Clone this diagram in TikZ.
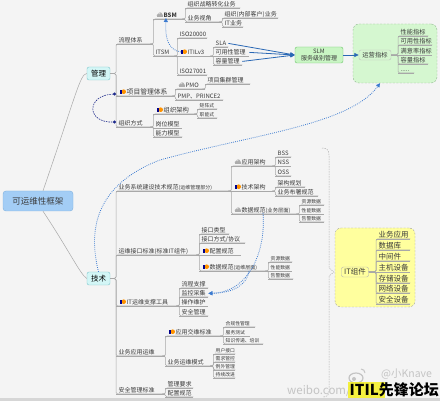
\documentclass[tikz,border=0pt]{standalone}
\usepackage{fontspec}
\setmainfont{Noto Sans CJK SC}
\usetikzlibrary{arrows.meta,calc}
\definecolor{bgc}{HTML}{F4F4F4}
\definecolor{band}{HTML}{D6D6D6}
\definecolor{linec}{HTML}{A8A8A8}
\definecolor{txt}{HTML}{3A3A3A}
\definecolor{rootf}{HTML}{A3CDF5}
\definecolor{rootd}{HTML}{7FB0DE}
\definecolor{mainf}{HTML}{D3F6F6}
\definecolor{maind}{HTML}{7CC6CC}
\definecolor{slmf}{HTML}{C9F5C4}
\definecolor{slmd}{HTML}{6CC56C}
\definecolor{gcf}{HTML}{D5F7D0}
\definecolor{gcd}{HTML}{8FB58F}
\definecolor{ycf}{HTML}{FFFF9E}
\definecolor{ycd}{HTML}{A0A0A0}
\definecolor{blueA}{HTML}{2A68B5}
\definecolor{blueR}{HTML}{3C7BD0}
\definecolor{navyR}{HTML}{1E2A8C}
\definecolor{wmc}{HTML}{C4C4C4}
\definecolor{hl}{HTML}{F4F020}
\newcommand\fs[1]{\fontsize{#1}{#1}\selectfont}
\newcommand\tp[6][]{\node[tp,#1] (#2) at (#3,#4) {\makebox[#5pt][l]{\hspace*{2.5pt}#6}};}
\newcommand\tpi[6][]{\node[tp,#1] (#2) at (#3,#4) {\makebox[#5pt][l]{\hspace*{10.5pt}#6}};}
\newcommand\lk[2]{\draw[br] ([xshift=-3pt]#1.south east) -- (#1.south east) |- (#2.south east);}
\newcommand\lks[2]{\draw[br] (#1.south east) -- (#2.south west);}
\newcommand\lkb[2]{\draw[br] (#1.east) -| (#2.south west) -- (#2.south east);}
\newcommand\icloud[1]{\begin{scope}[shift={($(#1.south west)+(3.5,-1.8)$)}]
 \fill[gray!65] (0.3,0) rectangle (6.2,-2.2);
 \fill[gray!65] (1.6,-2) circle (1.5pt);
 \fill[gray!65] (3.7,-2.8) circle (2pt);
 \fill[gray!65] (5.4,-1.9) circle (1.2pt);
 \fill[white!70!gray] (3.2,-3.6) circle (0.7pt);
\end{scope}}
\newcommand\ithumb[1]{\begin{scope}[shift={($(#1.south west)+(3.5,-1.5)$)}]
 \fill[orange!85!yellow] (4.2,-2.8) circle (2.3pt);
 \fill[blue!55!black] (0.4,-0.6) rectangle (2.1,-4.6);
\end{scope}}
\begin{document}
\begin{tikzpicture}[x=1pt,y=-1pt,
  tp/.style={anchor=south west, inner xsep=0pt, inner ysep=0.8pt, text=txt, font=\fs{6},
    text height=4.8pt, text depth=0.4pt,
    append after command={(\tikzlastnode.south west) edge[ul] (\tikzlastnode.south east)}},
  sm/.style={font=\fs{4.8}, text height=3.8pt, text depth=0.3pt},
  big/.style={font=\fs{7.5}, text height=6pt, text depth=0.5pt},
  ul/.style={draw=linec, line width=0.5pt},
  br/.style={draw=linec, line width=0.5pt, rounded corners=1.5pt},
  rootl/.style={draw=linec, line width=0.5pt},
  rootbox/.style={draw=rootd, fill=rootf, rounded corners=3pt, minimum width=70pt, minimum height=20pt, inner sep=0pt, font=\fs{8.5}, text=txt},
  mainbox/.style={draw=maind, fill=mainf, rounded corners=2pt, minimum width=23pt, minimum height=13pt, inner sep=0pt, font=\fs{7.5}, text=black},
  slmbox/.style={draw=slmd, fill=slmf, rounded corners=2pt, minimum width=48pt, minimum height=16pt, inner sep=0pt, font=\fontsize{6}{7}\selectfont, align=center, text=txt},
  yybox/.style={draw=gray!50, fill=gcf, rounded corners=2pt, minimum width=32pt, minimum height=10pt, inner sep=0pt, font=\fs{6.3}, text=txt},
  gcont/.style={draw=gcd, dash pattern=on 2pt off 1.5pt, fill=gcf, rounded corners=6pt, minimum width=84pt, minimum height=59pt, inner sep=0pt},
  ycont/.style={draw=ycd, dash pattern=on 2pt off 1.5pt, fill=ycf, rounded corners=6pt, minimum width=80pt, minimum height=79pt, inner sep=0pt},
  itbox/.style={draw=gray!60, fill=ycf, rounded corners=2pt, minimum width=27pt, minimum height=10pt, inner sep=0pt, font=\fs{7.5}, text=txt},
  relB/.style={draw=blueR, line width=0.8pt, dash pattern=on 0.8pt off 1.2pt, -{Triangle[length=4pt,width=4pt]}},
  relN/.style={draw=navyR, line width=0.6pt, dash pattern=on 1.5pt off 1pt, {Circle[length=3pt]}-{Circle[length=3pt]}},
  arrB/.style={draw=blueA, line width=0.8pt, -{Triangle[length=4.5pt,width=4pt]}},
  sumb/.style={draw=gray!60, dash pattern=on 1.5pt off 1pt, line width=0.5pt}
]
\useasboundingbox (0,0) rectangle (440,401);
\fill[bgc] (0,0) rectangle (440,401);
\fill[band] (0,398) rectangle (440,401);

% containers
\node[gcont] (gbox) at (395,53.5) {};
\node[ycont] (ybox) at (375,267.5) {};

% root and main topics
\node[rootbox] (root) at (38,201) {可运维性框架};
\node[mainbox] (gl) at (98.5,73.5) {管理};
\node[mainbox] (js) at (98.5,278.5) {技术};
\draw[rootl] ([xshift=5pt]root.north) .. controls (76,95) and (80,74) .. (gl.west);
\draw[rootl] ([xshift=5pt]root.south) .. controls (70,252) and (80,274) .. (js.west);

% ---------- 管理 ----------
\tp{lc}{116}{44}{37}{流程体系}
\tpi[font=\fs{6.8}]{xm}{116}{96}{59}{项目管理体系}
\tp{zz}{116}{127}{37}{组织方式}
\lkb{gl}{lc}\lkb{gl}{xm}\lkb{gl}{zz}

\tpi{bsm}{153}{19}{32}{\textbf{BSM}}
\tp{itsm}{153}{56}{24}{ITSM}
\lk{lc}{bsm}\lk{lc}{itsm}

\tp{zl}{185}{8}{55}{组织战略转化业务}
\tp{ywsj}{185}{22}{37}{业务视角}
\lk{bsm}{zl}\lk{bsm}{ywsj}
\tp{zn}{222}{18}{56}{组织(内部客户)业务}
\tp{itb}{222}{27}{21}{IT业务}
\lk{ywsj}{zn}\lk{ywsj}{itb}

\tp{iso1}{177}{38}{30}{ISO20000}
\tpi{itil}{177}{56}{36}{ITILv3}
\tp{iso2}{177}{75}{30}{ISO27001}
\lk{itsm}{iso1}\lks{itsm}{itil}\lk{itsm}{iso2}

\tp{sla}{213}{47}{15}{SLA}
\tp{kyx}{213}{56}{36}{可用性管理}
\tp{rl}{213}{65}{29}{容量管理}
\lk{itil}{sla}\lks{itil}{kyx}\lk{itil}{rl}

\node[slmbox] (slm) at (319,55) {SLM\\服务级别管理};
\draw[arrB] (sla.east) -- (slm.west);
\draw[arrB] (kyx.east) -- (slm.west);
\draw[arrB] (rl.east) -- (slm.west);

\node[yybox] (yy) at (375,55) {运营指标};
\draw[arrB] (slm.east) -- (yy.west);
\tp[font=\fs{6.2}]{xnzb}{398}{36}{30}{性能指标}
\tp[font=\fs{6.2}]{kyzb}{398}{45}{34}{可用性指标}
\tp[font=\fs{6.2}]{mylzb}{398}{55}{34}{满意率指标}
\tp[font=\fs{6.2}]{rlzb}{398}{64}{30}{容量指标}
\tp[font=\fs{6.2}]{dotz}{398}{73}{16}{.....}
\lkb{yy}{xnzb}\lkb{yy}{kyzb}\draw[br] (yy.east) -- (mylzb.south west);\lkb{yy}{rlzb}\lkb{yy}{dotz}

\tpi{pmo}{175}{89}{30}{PMO}
\tp{pmp}{175}{100}{48}{PMP、PRINCE2}
\lk{xm}{pmo}\lk{xm}{pmp}
\tp{xmjq}{205}{84}{45}{项目集群管理}
\lk{pmo}{xmjq}

\tpi[font=\fs{6.3}]{zzjg}{153}{114}{44}{组织架构}
\tp{gw}{153}{128}{29}{岗位模型}
\tp{nl}{153}{137}{29}{能力模型}
\lk{zz}{zzjg}\lks{zz}{gw}\lk{zz}{nl}
\tp[sm]{jzs}{197}{109}{20}{矩阵式}
\tp[sm]{zns}{197}{118}{20}{职能式}
\lk{zzjg}{jzs}\lk{zzjg}{zns}

% ---------- 技术 ----------
\tp{ywxt}{116}{191}{115}{业务系统建设技术规范{\fs{5}(运维管理部分)}}
\tp{jk}{116}{255}{83}{运维接口标准(标准IT组件)}
\tpi{gj}{116}{306}{63}{IT运维支撑工具}
\tp{yyyw}{116}{356}{49}{业务应用运维}
\tp{aq}{116}{394}{49}{安全管理标准}
\lkb{js}{ywxt}\lkb{js}{jk}\lkb{js}{gj}\lkb{js}{yyyw}\lkb{js}{aq}

\tpi{yyjg}{231}{166}{44}{应用架构}
\tpi{jsjg}{231}{191}{44}{技术架构}
\tpi{sjyw}{231}{214}{68}{数据规范{\fs{5.3}(业务层面)}}
\lk{ywxt}{yyjg}\lks{ywxt}{jsjg}\lk{ywxt}{sjyw}

\tp{bss}{275}{157}{16}{BSS}
\tp{nss}{275}{166}{16}{NSS}
\tp{oss}{275}{176}{16}{OSS}
\lk{yyjg}{bss}\lks{yyjg}{nss}\lk{yyjg}{oss}
\tp{jggh}{275}{187}{30}{架构规划}
\tp{ywbs}{275}{196}{43}{业务布署规范}
\lk{jsjg}{jggh}\lk{jsjg}{ywbs}
\tp[sm]{zy1}{299}{205}{25}{资源数据}
\tp[sm]{xn1}{299}{214}{25}{性能数据}
\tp[sm]{gj1}{299}{222}{25}{告警数据}
\lk{sjyw}{zy1}\lks{sjyw}{xn1}\lk{sjyw}{gj1}

\tp{jklx}{199}{234}{30}{接口类型}
\tp{jkfs}{199}{243}{46}{接口方式/协议}
\tpi{pzgf}{199}{255}{42}{配置规范}
\tpi{sjyy}{199}{271}{69}{数据规范{\fs{5}(运维层面)}}
\lk{jk}{jklx}\lk{jk}{jkfs}\lks{jk}{pzgf}\lk{jk}{sjyy}
\tp[sm]{zy2}{268}{262}{24}{资源数据}
\tp[sm]{xn2}{268}{271}{24}{性能数据}
\tp[sm]{gj2}{268}{279}{25}{告警数据}
\lk{sjyy}{zy2}\lks{sjyy}{xn2}\lk{sjyy}{gj2}

\tp{lczc}{179}{288}{29}{流程支撑}
\tp{jkcj}{179}{297}{29}{监控采集}
\tp{czwh}{179}{306}{29}{操作维护}
\tp{aqgl}{179}{316}{29}{安全管理}
\lk{gj}{lczc}\lk{gj}{jkcj}\lks{gj}{czwh}\lk{gj}{aqgl}

\tpi{yyjw}{165}{336}{58}{应用交维标准}
\tp{ywms}{165}{366}{48}{业务运维模式}
\lk{yyyw}{yyjw}\lk{yyyw}{ywms}
\tp[sm]{hgx}{223}{327}{32}{合规性管理}
\tp[sm]{fwcs}{223}{336}{27}{服务测试}
\tp[sm]{zscd}{223}{344}{40}{知识传递、培训}
\lk{yyjw}{hgx}\lks{yyjw}{fwcs}\lk{yyjw}{zscd}
\tp[sm]{yhjk}{213}{354}{22}{用户接口}
\tp[sm]{xqgk}{213}{362}{22}{需求管控}
\tp[sm]{lwgl}{213}{370}{22}{例外管理}
\tp[sm]{cxgj}{213}{378}{22}{持续改进}
\lk{ywms}{yhjk}\lk{ywms}{xqgk}\lk{ywms}{lwgl}\lk{ywms}{cxgj}

\tp{glyq}{165}{388}{28}{管理要求}
\tp{pzgf2}{165}{397}{28}{配置规范}
\lk{aq}{glyq}\lk{aq}{pzgf2}

% ---------- IT组件 ----------
\node[itbox] (itn) at (355,272) {IT组件};
\tp[big]{ywyy}{376}{239}{34}{业务应用}
\tp[big]{sjk}{376}{250}{34}{数据库}
\tp[big]{zjj}{376}{261}{34}{中间件}
\tp[big]{zjsb}{376}{272}{34}{主机设备}
\tp[big]{ccsb}{376}{283}{34}{存储设备}
\tp[big]{wlsb}{376}{293}{34}{网络设备}
\tp[big]{aqsb}{376}{304}{34}{安全设备}
\lkb{itn}{ywyy}\lkb{itn}{sjk}\lkb{itn}{zjj}\draw[br] (itn.east) -- (zjsb.south west);
\lkb{itn}{ccsb}\lkb{itn}{wlsb}\lkb{itn}{aqsb}

% summary bracket
\draw[sumb] (322,148) .. controls (327,148) and (329,150) .. (329,155) -- (329,268) -- (334,272) -- (329,276) -- (329,391) .. controls (329,395) and (327,397) .. (323,397);

% icons
\icloud{bsm}\icloud{pmo}\icloud{yyjg}\icloud{sjyw}
\ithumb{itil}\ithumb{xm}\ithumb{zzjg}\ithumb{jsjg}\ithumb{pzgf}\ithumb{sjyy}\ithumb{gj}\ithumb{yyjw}

% relationships
\draw[relN] ($(xm.south west)+(0,-2)$) .. controls (86,95) and (86,123) .. ($(zz.south west)+(0,-5)$);
\draw[relB] ($(itil.south west)+(4,-4)$) .. controls (168,50) and (165,38) .. ($(bsm.south west)+(13,-1)$);
\draw[relB] (js.north) .. controls (88,230) and (95,185) .. (160,160) .. controls (250,135) and (350,125) .. ([xshift=-15pt]gbox.south);
\draw[relB] ($(sjyw.south west)+(32,-1)$) .. controls (266,250) and (250,292) .. (jkcj.east);
\draw[relB] ($(sjyy.south west)+(50,0)$) .. controls (247,285) and (233,293) .. (jkcj.east);

% watermark
\draw[wmc, line width=1.2pt] (356,378) ellipse (7pt and 5pt);
\fill[wmc] (354,379) circle (2pt);
\draw[wmc, line width=1pt] (361,369) arc (90:0:4pt);
\node[anchor=west, text=wmc, font=\fs{10.5}, inner sep=0pt] (wm1) at (381,374) {@小Knave};
\node[anchor=west, text=wmc, font=\fs{11.5}, inner sep=0pt] (wm2) at (287,391) {weibo.com/};
\fill[hl, opacity=0.85] (348,382) rectangle (385,398);
\node[anchor=east, text=black, font=\fs{15}\bfseries, inner sep=0pt] (wm3) at (439,390) {ITIL先锋论坛};
\end{tikzpicture}
\end{document}
